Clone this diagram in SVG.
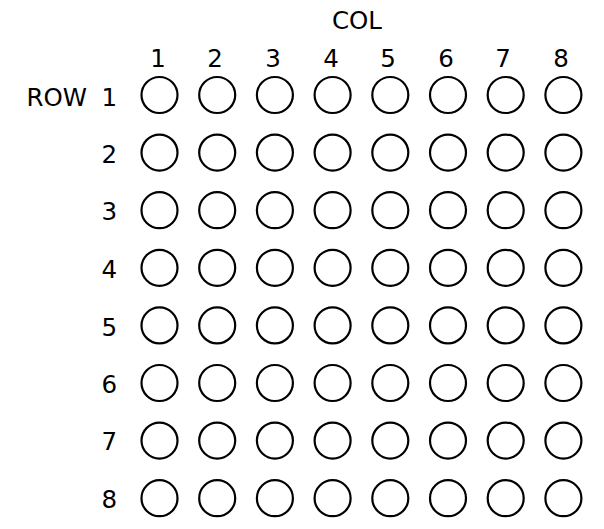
<svg xmlns="http://www.w3.org/2000/svg" width="604" height="529" viewBox="0 0 604 529">
<style>
text{font-family:"DejaVu Sans","Liberation Sans",sans-serif;font-size:24.5px;fill:#000}
.c{fill:none;stroke:#000;stroke-width:2.2}
.m{text-anchor:middle}
.e{text-anchor:end}
</style>
<rect width="604" height="529" fill="#fff"/>
<defs><circle id="dot" r="18" class="c"/></defs>
<g id="labels">
<text class="m" x="357" y="29">COL</text>
<text class="e" x="87" y="106">ROW</text>
<text class="m" x="158" y="67">1</text>
<text class="m" x="215" y="67">2</text>
<text class="m" x="273" y="67">3</text>
<text class="m" x="331" y="67">4</text>
<text class="m" x="388" y="67">5</text>
<text class="m" x="446" y="67">6</text>
<text class="m" x="503" y="67">7</text>
<text class="m" x="561" y="67">8</text>
<text class="e" x="117" y="106">1</text>
<text class="e" x="117" y="163">2</text>
<text class="e" x="117" y="220">3</text>
<text class="e" x="117" y="278">4</text>
<text class="e" x="117" y="336">5</text>
<text class="e" x="117" y="393">6</text>
<text class="e" x="117" y="450">7</text>
<text class="e" x="117" y="508">8</text>
</g>
<g id="connectors"></g>
<g id="grid">
<g id="row1"><use href="#dot" x="159.5" y="95"/><use href="#dot" x="217.2" y="95"/><use href="#dot" x="274.9" y="95"/><use href="#dot" x="332.6" y="95"/><use href="#dot" x="390.3" y="95"/><use href="#dot" x="448" y="95"/><use href="#dot" x="505.7" y="95"/><use href="#dot" x="563.4" y="95"/></g>
<g id="row2"><use href="#dot" x="159.5" y="152.6"/><use href="#dot" x="217.2" y="152.6"/><use href="#dot" x="274.9" y="152.6"/><use href="#dot" x="332.6" y="152.6"/><use href="#dot" x="390.3" y="152.6"/><use href="#dot" x="448" y="152.6"/><use href="#dot" x="505.7" y="152.6"/><use href="#dot" x="563.4" y="152.6"/></g>
<g id="row3"><use href="#dot" x="159.5" y="210.2"/><use href="#dot" x="217.2" y="210.2"/><use href="#dot" x="274.9" y="210.2"/><use href="#dot" x="332.6" y="210.2"/><use href="#dot" x="390.3" y="210.2"/><use href="#dot" x="448" y="210.2"/><use href="#dot" x="505.7" y="210.2"/><use href="#dot" x="563.4" y="210.2"/></g>
<g id="row4"><use href="#dot" x="159.5" y="267.8"/><use href="#dot" x="217.2" y="267.8"/><use href="#dot" x="274.9" y="267.8"/><use href="#dot" x="332.6" y="267.8"/><use href="#dot" x="390.3" y="267.8"/><use href="#dot" x="448" y="267.8"/><use href="#dot" x="505.7" y="267.8"/><use href="#dot" x="563.4" y="267.8"/></g>
<g id="row5"><use href="#dot" x="159.5" y="325.4"/><use href="#dot" x="217.2" y="325.4"/><use href="#dot" x="274.9" y="325.4"/><use href="#dot" x="332.6" y="325.4"/><use href="#dot" x="390.3" y="325.4"/><use href="#dot" x="448" y="325.4"/><use href="#dot" x="505.7" y="325.4"/><use href="#dot" x="563.4" y="325.4"/></g>
<g id="row6"><use href="#dot" x="159.5" y="383"/><use href="#dot" x="217.2" y="383"/><use href="#dot" x="274.9" y="383"/><use href="#dot" x="332.6" y="383"/><use href="#dot" x="390.3" y="383"/><use href="#dot" x="448" y="383"/><use href="#dot" x="505.7" y="383"/><use href="#dot" x="563.4" y="383"/></g>
<g id="row7"><use href="#dot" x="159.5" y="440.6"/><use href="#dot" x="217.2" y="440.6"/><use href="#dot" x="274.9" y="440.6"/><use href="#dot" x="332.6" y="440.6"/><use href="#dot" x="390.3" y="440.6"/><use href="#dot" x="448" y="440.6"/><use href="#dot" x="505.7" y="440.6"/><use href="#dot" x="563.4" y="440.6"/></g>
<g id="row8"><use href="#dot" x="159.5" y="498.2"/><use href="#dot" x="217.2" y="498.2"/><use href="#dot" x="274.9" y="498.2"/><use href="#dot" x="332.6" y="498.2"/><use href="#dot" x="390.3" y="498.2"/><use href="#dot" x="448" y="498.2"/><use href="#dot" x="505.7" y="498.2"/><use href="#dot" x="563.4" y="498.2"/></g>
</g>
</svg>
